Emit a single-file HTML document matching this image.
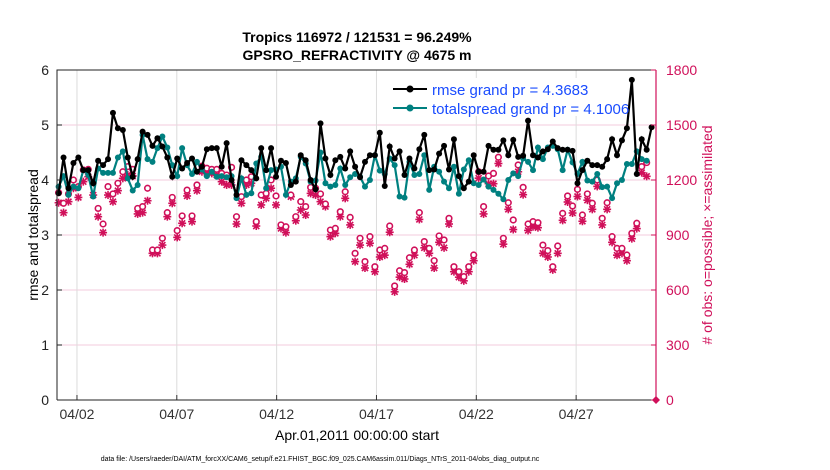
<!DOCTYPE html>
<html><head><meta charset="utf-8"><style>
body{margin:0;background:#fff;}
svg{display:block;font-family:"Liberation Sans",Arial,sans-serif;}
</style></head><body>
<svg id="chart" width="830" height="470" viewBox="0 0 830 470" xmlns="http://www.w3.org/2000/svg">
<rect width="830" height="470" fill="#fff"/>
<g id="grid"></g>
<g id="series"></g>
<g id="axes"></g>
<text x="357" y="42" text-anchor="middle" font-size="14" font-weight="bold">Tropics 116972 / 121531 = 96.249%</text>
<text x="357" y="60" text-anchor="middle" font-size="14" font-weight="bold">GPSRO_REFRACTIVITY @ 4675 m</text>
<text transform="translate(38,235) rotate(-90)" text-anchor="middle" font-size="14">rmse and totalspread</text>
<text transform="translate(712,235) rotate(-90)" text-anchor="middle" font-size="14" fill="#d0105a">#  of obs: o=possible; ×=assimilated</text>
<text x="357" y="440" text-anchor="middle" font-size="14">Apr.01,2011 00:00:00 start</text>
<text x="320" y="461" text-anchor="middle" font-size="7">data file: /Users/raeder/DAI/ATM_forcXX/CAM6_setup/f.e21.FHIST_BGC.f09_025.CAM6assim.011/Diags_NTrS_2011-04/obs_diag_output.nc</text>
<g id="legend">
<rect x="388" y="78" width="228" height="38" fill="#fff"/>
<g>
<line x1="393" y1="89" x2="427" y2="89" stroke="#000" stroke-width="2"/><circle cx="410" cy="89" r="3.5" fill="#000"/>
<text x="432" y="95" font-size="15" fill="#1a4cff">rmse grand pr = 4.3683</text></g>
<g>
<line x1="393" y1="108" x2="427" y2="108" stroke="#008080" stroke-width="2"/><circle cx="410" cy="108" r="3.5" fill="#008080"/>
<text x="432" y="114" font-size="15" fill="#1a4cff">totalspread grand pr = 4.1006</text></g>
</g>
</svg>
<script>
const rmse=[3.76,4.41,3.85,4.31,4.41,4.18,4.18,3.94,4.35,4.27,4.38,5.22,4.94,4.91,4.41,4.06,4.38,4.88,4.82,4.62,4.76,4.61,4.41,4.06,4.39,4.21,4.31,4.39,4.15,4.24,4.56,
4.58,4.58,4.24,4.67,4.0,3.73,4.36,4.27,4.18,4.03,4.58,4.18,4.58,4.06,4.35,4.31,3.91,3.97,4.45,4.36,4.0,3.83,5.03,4.39,4.09,4.36,4.42,4.21,4.52,4.24,
4.05,4.33,4.45,4.45,4.86,3.89,4.61,4.39,4.52,4.09,4.39,4.21,4.56,4.82,4.18,4.19,4.48,4.62,4.19,4.74,4.07,3.85,3.97,4.45,4.15,4.15,4.62,4.55,4.55,4.72,
4.45,4.73,4.42,4.44,5.08,4.45,4.41,4.52,4.56,4.70,4.58,4.55,4.55,4.53,3.94,4.18,4.35,4.27,4.27,4.24,4.38,4.74,4.45,4.72,4.94,5.82,4.11,4.74,4.55,4.96];
const spread=[3.88,4.07,3.73,3.88,3.85,4.18,4.09,3.70,4.21,4.13,4.13,4.13,4.41,4.52,4.03,3.81,3.91,4.82,4.38,4.33,4.58,4.79,4.59,4.27,4.07,4.58,4.27,4.11,4.33,4.19,4.07,
4.15,4.06,4.07,4.05,4.07,3.67,4.03,3.73,3.76,4.30,4.42,3.85,4.18,4.19,4.24,3.73,3.97,4.03,4.42,4.30,3.97,3.99,4.50,3.94,3.88,3.91,4.21,3.91,4.05,4.11,
4.06,3.88,4.0,4.45,4.17,4.11,4.39,4.27,3.70,3.68,4.33,4.09,4.11,4.45,3.82,4.24,4.15,3.97,3.85,4.24,3.75,4.19,4.36,3.94,3.91,4.01,3.88,3.82,3.75,3.65,
4.0,4.12,4.07,4.39,4.33,4.18,4.59,4.38,4.59,4.62,4.56,4.18,4.55,4.32,4.11,4.33,3.99,3.97,4.11,3.87,3.88,3.67,3.94,4.0,4.29,4.29,4.52,4.38,4.35];
const possible=[1131,1073,1124,1200,1164,1255,1258,1185,1045,960,1164,1124,1182,1245,1273,1258,1045,1055,1155,818,818,882,1022,1105,924,1004,1145,1004,1173,1276,1264,
1258,1258,1236,1227,1269,1000,1109,1200,1218,973,1118,1127,1200,1113,955,945,1118,1000,1082,1055,1160,1155,1124,1069,927,936,1027,1136,996,800,
882,755,891,727,818,827,949,622,705,695,776,818,1022,864,827,760,895,873,991,727,700,673,727,791,1245,1055,1222,1236,1324,882,
1076,982,1282,1160,960,973,967,845,815,727,840,1018,1113,1058,1149,1009,1124,1073,1200,991,1076,891,827,827,791,909,964,1273,1295];
const assimilated=[1076,1022,1082,1155,1105,1191,1218,1118,1000,913,1118,1082,1142,1209,1227,1222,1015,1022,1087,800,800,845,1000,1073,887,964,1113,973,1142,1245,1236,
1236,1227,1191,1173,1173,960,1073,1173,1182,949,1064,1100,1155,1064,936,913,1109,978,1036,1009,1127,1118,1082,1055,891,909,1000,1100,955,755,
845,720,855,700,780,790,915,590,670,660,740,790,985,830,800,720,860,830,960,700,670,650,700,760,1210,1015,1180,1180,1290,850,
1040,930,1245,1120,925,945,940,800,780,710,800,980,1080,1020,1110,975,1090,1040,1165,955,1040,860,790,800,760,880,935,1240,1220];
const dayTicks=["04/02","04/07","04/12","04/17","04/22","04/27"];
const dayTickVals=[1,6,11,16,21,26];
const leftTicks=[0,1,2,3,4,5,6];
const rightTicks=[0,300,600,900,1200,1500,1800];

const X0=57,X1=656,Y0=400,Y1=70,DAYS=30;
const xd=d=>X0+(X1-X0)*d/DAYS;
const xi=i=>xd(0.08+0.2475*i);
const yl=v=>Y0-(Y0-Y1)*v/6;
const yr=v=>Y0-(Y0-Y1)*v/1800;
const NS="http://www.w3.org/2000/svg";
function mk(tag,attrs,parent){const e=document.createElementNS(NS,tag);for(const k in attrs)e.setAttribute(k,attrs[k]);parent.appendChild(e);return e;}
const grid=document.getElementById('grid'),ser=document.getElementById('series'),ax=document.getElementById('axes');

rightTicks.forEach(v=>{if(v>0&&v<1800){const l=mk('line',{x1:X0,x2:X1,y1:yr(v),y2:yr(v),stroke:'#f3cbdc','stroke-width':1},grid);

}});
dayTickVals.forEach((d,k)=>{const l=mk('line',{x1:xd(d),x2:xd(d),y1:Y1,y2:Y0,stroke:'#dcdcdc','stroke-width':1},grid);


const t=mk('line',{x1:xd(d),x2:xd(d),y1:Y0,y2:Y0-5,stroke:'#333'},ax);


const tx=mk('text',{x:xd(d),y:Y0+19,'text-anchor':'middle','font-size':14,fill:'#333'},ax);tx.textContent=dayTicks[k];

});

assimilated.forEach((v,i)=>{const x=xi(i),y=yr(v);const g=mk('g',{stroke:'#d0105a','stroke-width':1.6},ser);


mk('line',{x1:x-4,x2:x+4,y1:y,y2:y},g);mk('line',{x1:x,x2:x,y1:y-4,y2:y+4},g);
mk('line',{x1:x-3,x2:x+3,y1:y-3,y2:y+3},g);mk('line',{x1:x-3,x2:x+3,y1:y+3,y2:y-3},g);});
possible.forEach((v,i)=>{const c=mk('circle',{cx:xi(i),cy:yr(v),r:2.8,fill:'#fff',stroke:'#d0105a','stroke-width':1.6},ser);

});
const end=mk('path',{d:`M${X1-4},${Y0} L${X1},${Y0-4} L${X1+4},${Y0} L${X1},${Y0+4}Z`,fill:'#d0105a'},ser);



function line(arr,color,name){const p=mk('polyline',{points:arr.map((v,i)=>xi(i)+','+yl(v)).join(' '),fill:'none',stroke:color,'stroke-width':2.2},ser);


arr.forEach((v,i)=>{const c=mk('circle',{cx:xi(i),cy:yl(v),r:3,fill:color},ser);

});}
line(spread,'#008080','totalspread');
line(rmse,'#000','rmse');

const f1=mk('path',{d:`M${X0},${Y0} L${X0},${Y1} L${X1},${Y1}`,fill:'none',stroke:'#222','stroke-width':1},ax);


const f2=mk('line',{x1:X0,x2:X1,y1:Y0,y2:Y0,stroke:'#222','stroke-width':1},ax);


const f3=mk('line',{x1:X1,x2:X1,y1:Y1,y2:Y0,stroke:'#d0105a','stroke-width':1.2},ax);


leftTicks.forEach(v=>{const t=mk('line',{x1:X0,x2:X0+5,y1:yl(v),y2:yl(v),stroke:'#222'},ax);


const tx=mk('text',{x:X0-8,y:yl(v)+5,'text-anchor':'end','font-size':14,fill:'#222'},ax);tx.textContent=v;

});
rightTicks.forEach(v=>{const t=mk('line',{x1:X1-5,x2:X1,y1:yr(v),y2:yr(v),stroke:'#d0105a'},ax);


const tx=mk('text',{x:X1+10,y:yr(v)+5,'text-anchor':'start','font-size':14,fill:'#d0105a'},ax);tx.textContent=v;

});
document.getElementById('chart').appendChild(document.getElementById('legend'));
</script>
</body></html>
